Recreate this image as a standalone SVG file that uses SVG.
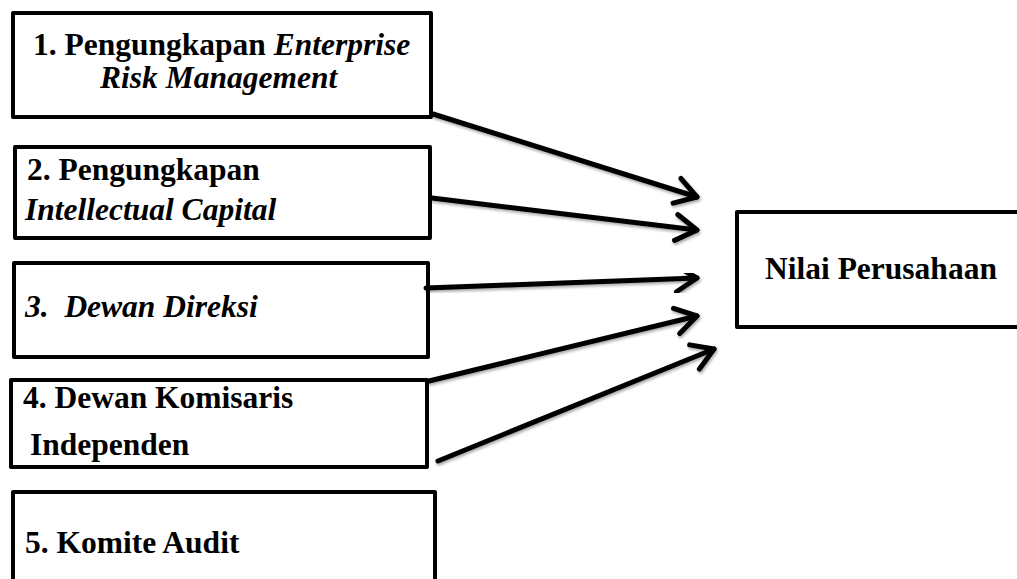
<svg xmlns="http://www.w3.org/2000/svg" width="1017" height="579" viewBox="0 0 1017 579">
<style>
.box{fill:#fff;stroke:#000;stroke-width:4;stroke-linejoin:round}
.t{font-family:"Liberation Serif","Times New Roman",serif;font-size:31.5px;font-weight:bold;fill:#000}
.i{font-style:italic}
.conn line{stroke:#000;stroke-width:5;stroke-linecap:round;marker-end:url(#arr);filter:url(#sh)}
</style>
<defs>
<marker id="arr" markerUnits="userSpaceOnUse" markerWidth="40" markerHeight="40" viewBox="-30 -20 40 40" refX="0" refY="0" orient="auto" overflow="visible">
<path d="M-21,-13 L0,0 L-21,13" fill="none" stroke="#000" stroke-width="5" stroke-linecap="round" stroke-linejoin="round"/>
</marker>
<filter id="sh" x="-10%" y="-50%" width="120%" height="200%">
<feGaussianBlur in="SourceAlpha" stdDeviation="1.5"/>
<feOffset dx="1" dy="2" result="b"/>
<feComponentTransfer><feFuncA type="linear" slope="0.35"/></feComponentTransfer>
<feMerge><feMergeNode/><feMergeNode in="SourceGraphic"/></feMerge>
</filter>
</defs>
<g id="node1">
<rect class="box" x="13" y="13" width="418" height="104"/>
<text class="t" x="33" y="55">1. Pengungkapan <tspan class="i">Enterprise</tspan></text>
<text class="t i" x="100" y="88">Risk Management</text>
</g>
<g id="node2">
<rect class="box" x="15" y="147" width="415" height="91"/>
<text class="t" x="27" y="180">2. Pengungkapan</text>
<text class="t i" x="25" y="220">Intellectual Capital</text>
</g>
<g id="node3">
<rect class="box" x="14" y="263" width="414" height="94"/>
<text class="t i" x="25" y="317" xml:space="preserve">3.  Dewan Direksi</text>
</g>
<g id="node4">
<rect class="box" x="11" y="380" width="416" height="87"/>
<text class="t" x="23" y="408">4. Dewan Komisaris</text>
<text class="t" x="30" y="455">Independen</text>
</g>
<g id="node5">
<rect class="box" x="13" y="492" width="422" height="100"/>
<text class="t" x="25" y="553">5. Komite Audit</text>
</g>
<g id="node6">
<rect class="box" x="737" y="212" width="290" height="115"/>
<text class="t" x="765" y="279">Nilai Perusahaan</text>
</g>
<g class="conn">
<line x1="433" y1="114" x2="697" y2="197"/>
<line x1="432" y1="198" x2="697" y2="230"/>
<line x1="426" y1="288" x2="697" y2="278"/>
<line x1="429" y1="381" x2="697" y2="316"/>
<line x1="438" y1="461" x2="714" y2="349"/>
</g>
</svg>
